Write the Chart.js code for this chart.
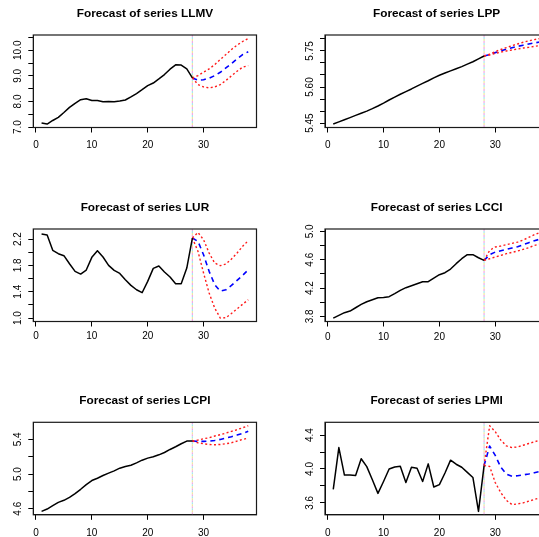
<!DOCTYPE html>
<html>
<head>
<meta charset="utf-8">
<script src="https://cdn.jsdelivr.net/npm/chart.js@4/dist/chart.umd.min.js"></script>
<style>
  html, body { margin: 0; padding: 0; background: #fff; overflow: hidden; width: 539px; height: 537px; position: relative; }
  .panel { position: absolute; width: 291px; height: 158px; }
</style>
</head>
<body>
<div class="panel" style="left:0px;top:0px"><canvas id="c0"></canvas></div>
<div class="panel" style="left:291px;top:0px"><canvas id="c1"></canvas></div>
<div class="panel" style="left:0px;top:194px"><canvas id="c2"></canvas></div>
<div class="panel" style="left:291px;top:194px"><canvas id="c3"></canvas></div>
<div class="panel" style="left:0px;top:387px"><canvas id="c4"></canvas></div>
<div class="panel" style="left:291px;top:387px"><canvas id="c5"></canvas></div>
<script>
// Observed values are periods 1..28; forecasts (and 95% bands) cover periods 29..38.
const llmvObs   = [7.16, 7.12, 7.26, 7.38, 7.57, 7.77, 7.93, 8.07, 8.11, 8.04, 8.04, 7.99, 8.00, 7.99,
                   8.02, 8.06, 8.18, 8.31, 8.46, 8.62, 8.72, 8.88, 9.05, 9.26, 9.43, 9.42, 9.27, 8.92];
const llmvFcst  = [8.83, 8.85, 8.91, 9.01, 9.14, 9.31, 9.48, 9.66, 9.83, 9.94];
const llmvUpper = [9.01, 9.14, 9.27, 9.44, 9.64, 9.83, 10.03, 10.20, 10.34, 10.46];
const llmvLower = [8.66, 8.57, 8.53, 8.57, 8.66, 8.82, 9.00, 9.18, 9.34, 9.40];

const lppObs    = [5.446, 5.455, 5.464, 5.473, 5.482, 5.491, 5.500, 5.510, 5.521, 5.533, 5.546, 5.558, 5.570, 5.581,
                   5.592, 5.604, 5.615, 5.626, 5.638, 5.649, 5.658, 5.667, 5.676, 5.685, 5.695, 5.705, 5.717, 5.729];
const lppFcst   = [5.735, 5.743, 5.750, 5.757, 5.763, 5.769, 5.774, 5.779, 5.783, 5.787];
const lppUpper  = [5.737, 5.747, 5.756, 5.764, 5.772, 5.779, 5.786, 5.792, 5.797, 5.802];
const lppLower  = [5.733, 5.740, 5.745, 5.750, 5.754, 5.758, 5.762, 5.765, 5.769, 5.772];

const lurObs    = [2.276, 2.261, 2.028, 1.977, 1.947, 1.825, 1.709, 1.668, 1.729, 1.922, 2.023, 1.927, 1.800, 1.724,
                   1.678, 1.582, 1.496, 1.430, 1.385, 1.557, 1.754, 1.790, 1.699, 1.623, 1.522, 1.522, 1.759, 2.215];
const lurFcst   = [2.165, 1.962, 1.709, 1.506, 1.410, 1.430, 1.496, 1.572, 1.648, 1.734];
const lurUpper  = [2.300, 2.190, 1.987, 1.835, 1.795, 1.820, 1.896, 1.987, 2.089, 2.175];
const lurLower  = [2.013, 1.684, 1.380, 1.152, 1.000, 1.005, 1.070, 1.140, 1.210, 1.278];

const lcciObs   = [3.776, 3.814, 3.852, 3.875, 3.922, 3.969, 4.007, 4.035, 4.064, 4.068, 4.078, 4.120, 4.167, 4.205,
                   4.233, 4.261, 4.289, 4.289, 4.341, 4.388, 4.416, 4.468, 4.544, 4.614, 4.671, 4.671, 4.628, 4.590];
const lcciFcst  = [4.671, 4.708, 4.727, 4.746, 4.765, 4.784, 4.812, 4.840, 4.868, 4.890];
const lcciUpper = [4.732, 4.779, 4.793, 4.812, 4.831, 4.849, 4.878, 4.915, 4.953, 4.985];
const lcciLower = [4.614, 4.638, 4.661, 4.685, 4.704, 4.722, 4.746, 4.769, 4.802, 4.820];

const lcpiObs   = [4.569, 4.596, 4.635, 4.673, 4.697, 4.731, 4.774, 4.824, 4.878, 4.925, 4.952, 4.983, 5.010, 5.037,
                   5.068, 5.087, 5.102, 5.129, 5.160, 5.184, 5.199, 5.222, 5.249, 5.284, 5.315, 5.350, 5.381, 5.381];
const lcpiFcst  = [5.377, 5.377, 5.381, 5.388, 5.400, 5.415, 5.431, 5.450, 5.470, 5.493];
const lcpiUpper = [5.392, 5.408, 5.419, 5.439, 5.454, 5.473, 5.493, 5.512, 5.535, 5.558];
const lcpiLower = [5.361, 5.350, 5.342, 5.338, 5.342, 5.350, 5.361, 5.381, 5.400, 5.415];

const lpmiObs   = [3.760, 4.252, 3.928, 3.928, 3.924, 4.120, 4.028, 3.872, 3.712, 3.852, 4.000, 4.024, 4.032, 3.840,
                   4.020, 4.008, 3.852, 4.060, 3.788, 3.816, 3.952, 4.104, 4.056, 4.020, 3.960, 3.900, 3.500, 4.040];
const lpmiFcst  = [4.270, 4.160, 4.020, 3.940, 3.915, 3.920, 3.930, 3.940, 3.956, 3.972];
const lpmiUpper = [4.510, 4.440, 4.340, 4.272, 4.252, 4.260, 4.280, 4.300, 4.320, 4.340];
const lpmiLower = [4.030, 3.840, 3.720, 3.630, 3.580, 3.588, 3.600, 3.620, 3.640, 3.660];

// Axis ticks
const xTickValues = [0, 10, 20, 30];
const xTickLabels = ['0', '10', '20', '30'];
const llmvYTicks  = [7.0, 7.5, 8.0, 8.5, 9.0, 9.5, 10.0, 10.5];
const llmvYLabels = ['7.0', '', '8.0', '', '9.0', '', '10.0', ''];
const lppYTicks   = [5.45, 5.50, 5.55, 5.60, 5.65, 5.70, 5.75, 5.80];
const lppYLabels  = ['5.45', '', '', '5.60', '', '', '5.75', ''];
const lurYTicks   = [1.0, 1.2, 1.4, 1.6, 1.8, 2.0, 2.2];
const lurYLabels  = ['1.0', '', '1.4', '', '1.8', '', '2.2'];
const lcciYTicks  = [3.8, 4.0, 4.2, 4.4, 4.6, 4.8, 5.0];
const lcciYLabels = ['3.8', '', '4.2', '', '4.6', '', '5.0'];
const lcpiYTicks  = [4.6, 4.8, 5.0, 5.2, 5.4];
const lcpiYLabels = ['4.6', '', '5.0', '', '5.4'];
const lpmiYTicks  = [3.6, 3.8, 4.0, 4.2, 4.4];
const lpmiYLabels = ['3.6', '', '4.0', '', '4.4'];

const FONT = "'Liberation Sans', Arial, Helvetica, sans-serif";
const TICK_SIZE = 10;
const TITLE_SIZE = 11.8;

const panels = [
  { id: 'c0', name: 'LLMV', obs: llmvObs, fcst: llmvFcst, upper: llmvUpper, lower: llmvLower, yTicks: llmvYTicks, yLabels: llmvYLabels, left: 33.3, top: 35,   xGap: 7 },
  { id: 'c1', name: 'LPP',  obs: lppObs,  fcst: lppFcst,  upper: lppUpper,  lower: lppLower,  yTicks: lppYTicks,  yLabels: lppYLabels,  left: 34,   top: 35,   xGap: 7 },
  { id: 'c2', name: 'LUR',  obs: lurObs,  fcst: lurFcst,  upper: lurUpper,  lower: lurLower,  yTicks: lurYTicks,  yLabels: lurYLabels,  left: 33.3, top: 35,   xGap: 4 },
  { id: 'c3', name: 'LCCI', obs: lcciObs, fcst: lcciFcst, upper: lcciUpper, lower: lcciLower, yTicks: lcciYTicks, yLabels: lcciYLabels, left: 34,   top: 35,   xGap: 4.5 },
  { id: 'c4', name: 'LCPI', obs: lcpiObs, fcst: lcpiFcst, upper: lcpiUpper, lower: lcpiLower, yTicks: lcpiYTicks, yLabels: lcpiYLabels, left: 33.3, top: 35.3, xGap: 7 },
  { id: 'c5', name: 'LPMI', obs: lpmiObs, fcst: lpmiFcst, upper: lpmiUpper, lower: lpmiLower, yTicks: lpmiYTicks, yLabels: lpmiYLabels, left: 34,   top: 35.3, xGap: 7 }
];

const PANEL_W = 291, PANEL_H = 158, BOX_W = 223.2, BOX_H = 92.5;

const measureCtx = document.createElement('canvas').getContext('2d');
measureCtx.font = TICK_SIZE + 'px ' + FONT;

// frame around the plotting region plus the dotted marker at the forecast origin
const framePlugin = {
  id: 'frame',
  beforeDatasetsDraw(chart, args, opts) {
    const { ctx, chartArea: a, scales } = chart;
    const x = scales.x.getPixelForValue(opts.origin);
    const cols = ['#f2a8e6', '#a6e6ee', '#eee6a0'];
    ctx.save();
    ctx.lineWidth = 1.2;
    cols.forEach((c, i) => {
      ctx.strokeStyle = c;
      ctx.setLineDash([2, 4]);
      ctx.lineDashOffset = -2 * i;
      ctx.beginPath();
      ctx.moveTo(x, a.top);
      ctx.lineTo(x, a.bottom);
      ctx.stroke();
    });
    ctx.restore();
  },
  afterDraw(chart) {
    const { ctx, chartArea: a } = chart;
    ctx.save();
    ctx.strokeStyle = '#1a1a1a';
    ctx.lineWidth = 1.2;
    ctx.strokeRect(a.left, a.top, a.right - a.left, a.bottom - a.top);
    ctx.restore();
  }
};

function rangeOf(arrs) {
  let lo = Infinity, hi = -Infinity;
  arrs.forEach(a => a.forEach(v => { lo = Math.min(lo, v); hi = Math.max(hi, v); }));
  const pad = (hi - lo) * 0.04;
  return [lo - pad, hi + pad];
}

panels.forEach(p => {
  const obsPts = p.obs.map((v, i) => ({ x: i + 1, y: v }));
  const origin = obsPts[obsPts.length - 1];
  const ahead = arr => [origin].concat(arr.map((v, i) => ({ x: origin.x + i + 1, y: v })));
  const nTotal = p.obs.length + p.fcst.length;
  const xPad = (nTotal - 1) * 0.04;
  const [yMin, yMax] = rangeOf([p.obs, p.fcst, p.upper, p.lower]);

  let widest = 0;
  p.yLabels.forEach(s => { widest = Math.max(widest, measureCtx.measureText(s).width); });
  const yPad = 10.2 - widest / 2;

  const titleLine = TITLE_SIZE * 1.2;
  const titleBottom = 14.6;
  const titleTop = p.top - titleLine - titleBottom;
  const rightPad = PANEL_W - p.left - BOX_W;
  const xAxisH = PANEL_H - p.top - BOX_H;

  const lineBase = { pointRadius: 0, fill: false, tension: 0, borderJoinStyle: 'round' };

  new Chart(document.getElementById(p.id), {
    type: 'line',
    data: {
      datasets: [
        Object.assign({ data: obsPts, borderColor: '#000000', borderWidth: 1.5 }, lineBase),
        Object.assign({ data: ahead(p.upper), borderColor: '#ff1a1a', borderWidth: 1.4, borderDash: [2, 2.4] }, lineBase),
        Object.assign({ data: ahead(p.lower), borderColor: '#ff1a1a', borderWidth: 1.4, borderDash: [2, 2.4] }, lineBase),
        Object.assign({ data: ahead(p.fcst), borderColor: '#0000ff', borderWidth: 1.6, borderDash: [5, 4] }, lineBase)
      ]
    },
    options: {
      responsive: true,
      maintainAspectRatio: false,
      animation: false,
      events: [],
      layout: { padding: { top: 0, left: 0, right: rightPad, bottom: 0 } },
      plugins: {
        legend: { display: false },
        tooltip: { enabled: false },
        frame: { origin: origin.x },
        title: {
          display: true,
          fullSize: false,
          text: 'Forecast of series ' + p.name,
          color: '#000',
          font: { family: FONT, size: TITLE_SIZE, weight: 'bold' },
          padding: { top: titleTop, bottom: titleBottom }
        }
      },
      scales: {
        x: {
          type: 'linear',
          min: 1 - xPad,
          max: nTotal + xPad,
          afterBuildTicks: a => { a.ticks = xTickValues.map(v => ({ value: v })); },
          afterFit: a => { a.height = xAxisH; },
          grid: { drawOnChartArea: false, drawTicks: true, tickLength: 5, color: '#000', lineWidth: 1 },
          border: { display: true, color: '#000', width: 1 },
          ticks: {
            autoSkip: false, maxRotation: 0, minRotation: 0,
            padding: p.xGap, color: '#000',
            font: { family: FONT, size: TICK_SIZE },
            callback: (v, i) => xTickLabels[i]
          }
        },
        y: {
          type: 'linear',
          min: yMin,
          max: yMax,
          afterBuildTicks: a => { a.ticks = p.yTicks.map(v => ({ value: v })); },
          afterFit: a => { a.width = p.left; },
          grid: { drawOnChartArea: false, drawTicks: true, tickLength: 5, color: '#000', lineWidth: 1 },
          border: { display: true, color: '#000', width: 1 },
          ticks: {
            autoSkip: false, minRotation: 90, maxRotation: 90, crossAlign: 'center',
            padding: yPad, color: '#000',
            font: { family: FONT, size: TICK_SIZE },
            callback: (v, i) => p.yLabels[i]
          }
        }
      }
    },
    plugins: [framePlugin]
  });
});
</script>
</body>
</html>
